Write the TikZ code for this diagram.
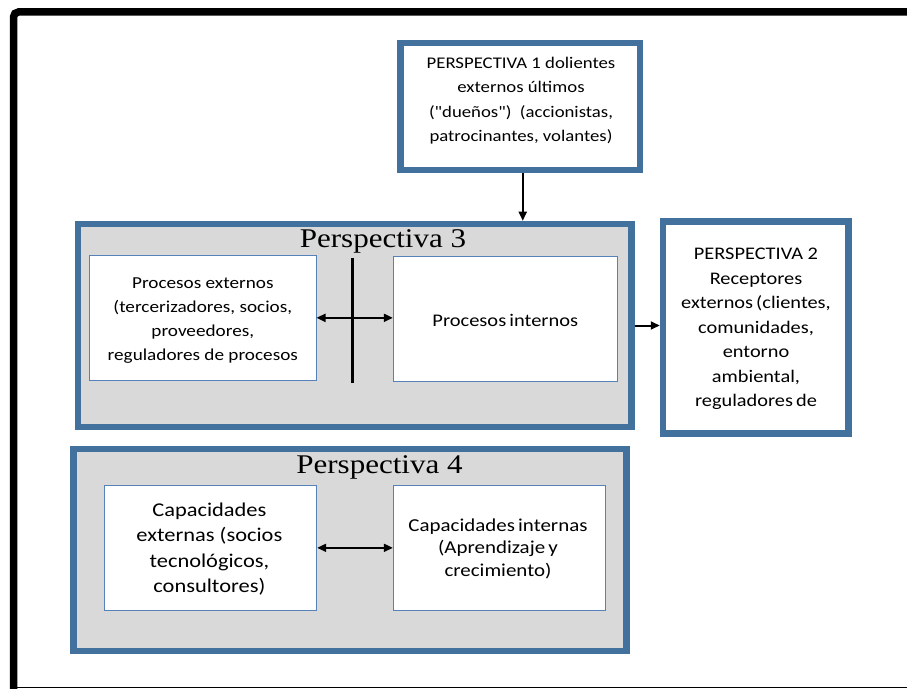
\documentclass[tikz,border=0pt]{standalone}
\usepackage{fontspec}
\setmainfont{Carlito}[FakeStretch=1.15, Ligatures=TeXOff]
\newfontfamily\titlefont{Liberation Serif}[FakeStretch=1.15]
\usetikzlibrary{arrows.meta,calc}

\definecolor{frameblue}{RGB}{65,113,156}
\definecolor{boxline}{RGB}{84,130,185}
\definecolor{panelgrey}{RGB}{217,217,217}

\tikzset{
  persp/.style={draw=frameblue, line width=6.5bp, fill=white, rectangle, inner sep=0pt},
  panel/.style={draw=frameblue, line width=6.5bp, fill=panelgrey, rectangle, inner sep=0pt},
  itembox/.style={draw=boxline, line width=1bp, fill=white, rectangle, inner sep=0pt},
  txt/.style={align=center, inner sep=0pt},
  paneltitle/.style={font=\titlefont\fontsize{27bp}{30bp}\selectfont, anchor=base, inner sep=0pt},
  tip/.tip={Triangle[length=9bp,width=8bp]},
  conn/.style={line width=2bp, -tip},
  biconn/.style={line width=2bp, tip-tip},
  bar/.style={line width=3bp},
}

\begin{document}
\begin{tikzpicture}[x=1bp, y=-1bp]
  \useasboundingbox (0,0) rectangle (907,689);
  \clip (0,0) rectangle (907,689);

  % page frame
  \draw[line width=7.5bp, rounded corners=5bp] (920,12) -- (13.5,12) -- (13.5,700);
  \draw[line width=1.2bp] (13.5,687.5) -- (920,687.5);

  % perspective 1
  \node[persp, minimum width=239.5bp, minimum height=127bp] (p1) at (520.25,106.5) {};
  \node[txt, font=\fontsize{16.3bp}{24.2bp}\selectfont] (p1t) at (521,100.6)
    {PERSPECTIVA 1 dolientes\\externos últimos\\("dueños")\ \ (accionistas,\\patrocinantes, volantes)};

  % perspective 3 panel
  \node[panel, minimum width=553.5bp, minimum height=203bp] (p3) at (354.75,325.5) {};
  \node[paneltitle] (p3t) at (383,247.7) {Perspectiva 3};
  \node[itembox, minimum width=226.7bp, minimum height=125.7bp] (pe) at (202.65,317.85) {};
  \node[txt, font=\fontsize{16.7bp}{24bp}\selectfont] (pet) at (202.8,320.8)
    {Procesos externos\\(tercerizadores, socios,\\proveedores,\\reguladores de procesos};
  \node[itembox, minimum width=224bp, minimum height=125bp] (pi) at (505.3,319.2) {};
  \node[txt, font=\fontsize{17.8bp}{24bp}\selectfont] (pit) at (505.3,320.5) {Procesos\hspace{-1.5bp} internos};
  \coordinate (barTop) at (352.5,258);
  \coordinate (barBot) at (352.5,383);

  % perspective 2
  \node[persp, minimum width=185.3bp, minimum height=211.6bp] (p2) at (755.65,327.5) {};
  \node[txt, font=\fontsize{17.7bp}{24.5bp}\selectfont] (p2t) at (756,329.2)
    {PERSPECTIVA 2\\Receptores\\externos\hspace{-1.5bp} (clientes,\\comunidades,\\entorno\\ambiental,\\reguladores\hspace{-1.5bp} de};

  % perspective 4 panel
  \node[panel, minimum width=553.4bp, minimum height=202bp] (p4) at (350,550) {};
  \node[paneltitle] (p4t) at (379.5,473.3) {Perspectiva 4};
  \node[itembox, minimum width=212.4bp, minimum height=125.7bp] (ce) at (210.5,547.85) {};
  \node[txt, font=\fontsize{19.5bp}{25.2bp}\selectfont] (cet) at (209.4,549)
    {Capacidades\\externas (socios\\tecnológicos,\\consultores)};
  \node[itembox, minimum width=212.4bp, minimum height=125.7bp] (ci) at (499.5,547.85) {};
  \node[txt, font=\fontsize{18.2bp}{22.7bp}\selectfont] (cit) at (498,548.8)
    {Capacidades\hspace{-1.5bp} internas\\(Aprendizaje\hspace{-1.5bp} y\\crecimiento)};

  % connectors
  \draw[conn] ($(p1.south)+(2.5,0)$) -- ($(p1.south |- p3.north)+(2.5,0)$);
  \draw[conn] (p3.east) -- (p3.east -| p2.west);
  \draw[biconn] (pe.east) -- (pe.east -| pi.west);
  \draw[bar] (barTop) -- (barBot);
  \draw[biconn] (ce.east) -- (ce.east -| ci.west);
\end{tikzpicture}
\end{document}
